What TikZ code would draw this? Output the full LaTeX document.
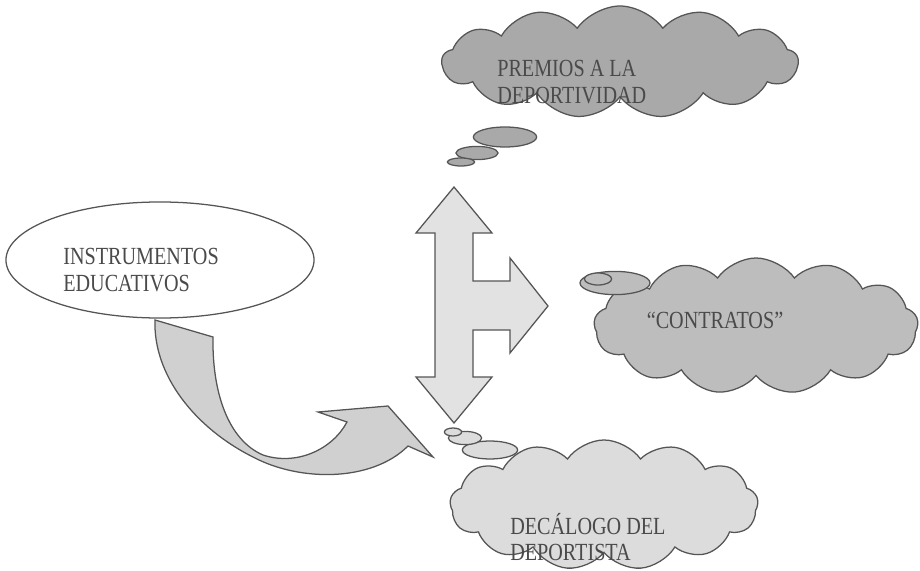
\documentclass[tikz,border=0pt]{standalone}
\usepackage{fontspec}
\setmainfont{Liberation Serif}[FakeStretch=0.82]
\usetikzlibrary{shapes.symbols,shapes.geometric}

\definecolor{linegray}{HTML}{555555}
\definecolor{inkgray}{HTML}{4a4a4a}
\definecolor{darkcloud}{HTML}{a9a9a9}
\definecolor{midcloud}{HTML}{bdbdbd}
\definecolor{lightcloud}{HTML}{dcdcdc}
\definecolor{arrowgray}{HTML}{e2e2e2}
\definecolor{curvegray}{HTML}{d0d0d0}

\begin{document}
\begin{tikzpicture}[x=0.025cm,y=-0.025cm,
        cloud node/.style={cloud,cloud puffs=13,cloud puff arc=110,aspect=3,draw=linegray,line width=0.9pt,inner sep=0pt},
        bubble/.style={ellipse,draw=linegray,line width=0.9pt,inner sep=0pt},
        block/.style={draw=linegray,line width=0.9pt,line join=miter},
        main text/.style={text=inkgray,font=\fontsize{17.5}{19}\selectfont,align=left,inner sep=0pt}]
        \useasboundingbox (0,0) rectangle (920,571);
        % curved arrow under the ellipse
        \draw[block,fill=curvegray] (155,320) -- (213,337)
            .. controls (212,392) and (228,440) .. (263,455)
            .. controls (296,466) and (332,450) .. (347,422)
            -- (318,412) -- (388,406) -- (433,457) -- (408,446)
            .. controls (372,482) and (300,482) .. (253,457)
            .. controls (195,428) and (153,375) .. cycle;
        \node[ellipse,draw=linegray,line width=0.9pt,fill=white,minimum width=7.7cm,minimum height=2.9cm] (e) at (160,260) {};
        \node[main text,anchor=west] (t1) at (63,270) {INSTRUMENTOS\\EDUCATIVOS};
        % three way arrow
        \draw[block,fill=arrowgray] (454,187) -- (492,233) -- (473,233) -- (473,281) -- (510,281) -- (510,258)
            -- (548,306) -- (510,353) -- (510,330) -- (473,330) -- (473,377) -- (492,377) -- (454,423)
            -- (416,377) -- (435,377) -- (435,233) -- (416,233) -- cycle;
        % clouds
        \node[cloud node,fill=darkcloud,minimum width=8.9cm,minimum height=2.8cm] (1) at (620,62) {};
        \node[bubble,fill=darkcloud,minimum width=1.58cm,minimum height=0.5cm] (1a) at (505,137) {};
        \node[bubble,fill=darkcloud,minimum width=1.05cm,minimum height=0.33cm] (1b) at (477,153) {};
        \node[bubble,fill=darkcloud,minimum width=0.68cm,minimum height=0.2cm] (1c) at (461,162) {};
        \node[main text,anchor=west] (t2) at (497,82) {PREMIOS A LA\\DEPORTIVIDAD};
        \node[cloud node,fill=midcloud,minimum width=8.1cm,minimum height=3.4cm] (2) at (756,326) {};
        \node[bubble,fill=midcloud,minimum width=1.75cm,minimum height=0.58cm] (2a) at (615,283) {};
        \node[bubble,fill=midcloud,minimum width=0.68cm,minimum height=0.3cm] (2b) at (598,279) {};
        \node[main text] (t3) at (715,320) {“CONTRATOS”};
        \node[cloud node,fill=lightcloud,minimum width=7.7cm,minimum height=3.25cm] (3) at (604,505) {};
        \node[bubble,fill=lightcloud,minimum width=1.38cm,minimum height=0.45cm] (3a) at (490,450) {};
        \node[bubble,fill=lightcloud,minimum width=0.83cm,minimum height=0.33cm] (3b) at (465,438) {};
        \node[bubble,fill=lightcloud,minimum width=0.43cm,minimum height=0.2cm] (3c) at (453,432) {};
        \node[main text,anchor=west] (t4) at (510,537) {DECÁLOGO DEL\\DEPORTISTA};
\end{tikzpicture}
\end{document}
